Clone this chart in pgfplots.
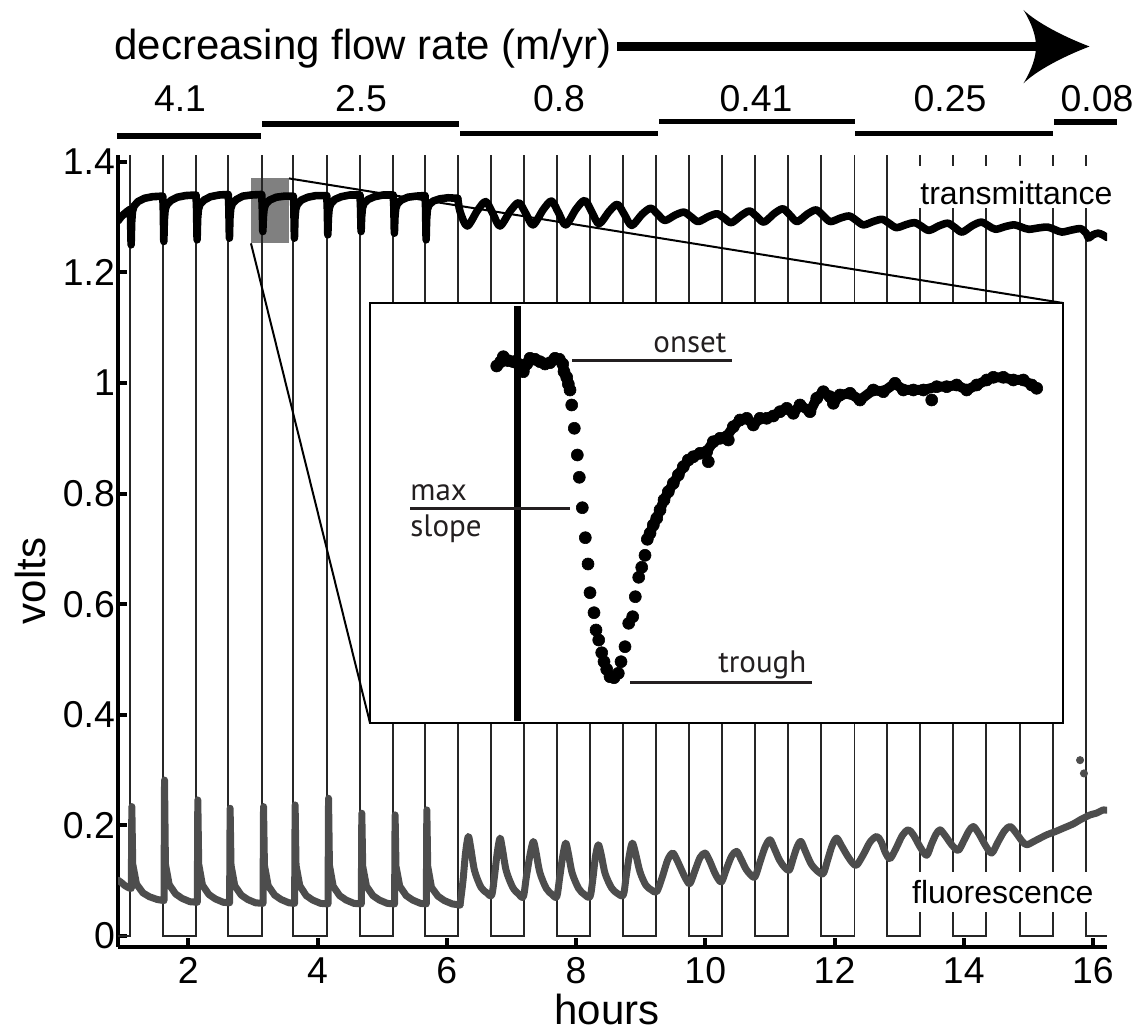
\documentclass[border=0pt]{standalone}
\usepackage{fontspec}
\setmainfont{Liberation Sans}
\newfontfamily\insetfont{PT Sans}
\usepackage{pgfplots}
\pgfplotsset{compat=1.18}
\definecolor{fl}{HTML}{4D4D4D}
\definecolor{sq}{HTML}{262626}
\definecolor{rectgray}{HTML}{808080}
\definecolor{ink}{HTML}{231F20}
\begin{document}
\begin{tikzpicture}
\begin{axis}[
  at={(59pt,-473.35pt)}, anchor=south west,
  scale only axis, width=494.6pt, height=395.75pt,
  xmin=0.912, xmax=16.22, ymin=-0.01935, ymax=1.412,
  axis lines=left, axis line style={-, line width=2pt},
  tick align=inside, major tick length=4.5pt,
  tick style={line width=2pt, black},
  xtick={2,4,6,8,10,12,14,16},
  xticklabels={2,4,6,8,10,12,14,16},
  ytick={0,0.2,0.4,0.6,0.8,1,1.2,1.4},
  yticklabels={0,0.2,0.4,0.6,0.8,1,1.2,1.4},
  /pgf/number format/assume math mode=true,
  tick label style={font=\fontsize{18.7}{22}\selectfont},
  yticklabel style={xshift=2pt},
  xticklabel style={yshift=-2pt},
]
% highlighted region
\fill[rectgray] (axis cs:2.970,1.2526) rectangle (axis cs:3.558,1.370);
% square wave (valve switching)
\addplot[sq, line width=0.95pt, line join=miter] coordinates {
(0.912,0) (1.098,0) (1.098,1.45) (1.604,1.45) (1.604,0) (2.119,0) (2.119,1.45) (2.619,1.45) (2.619,0)
(3.136,0) (3.136,1.45) (3.625,1.45) (3.625,0) (4.142,0) (4.142,1.45) (4.657,1.45) (4.657,0)
(5.172,0) (5.172,1.45) (5.663,1.45) (5.663,0) (6.178,0) (6.178,1.45) (6.684,1.45) (6.684,0)
(7.195,0) (7.195,1.45) (7.701,1.45) (7.701,0) (8.216,0) (8.216,1.45) (8.722,1.45) (8.722,0)
(9.236,0) (9.236,1.45) (9.751,1.45) (9.751,0) (10.265,0) (10.265,1.45) (10.768,1.45) (10.768,0)
(11.282,0) (11.282,1.45) (11.796,1.45) (11.796,0) (12.309,0) (12.309,1.45) (12.819,1.45) (12.819,0)
(13.322,0) (13.322,1.45) (13.835,1.45) (13.835,0) (14.351,0) (14.351,1.45) (14.864,1.45) (14.864,0)
(15.378,0) (15.378,1.45) (15.892,1.45) (15.892,0) (16.22,0)};
% zoom lines
\draw[black, line width=1pt] (axis cs:3.558,1.370) -- (axis cs:15.536,1.1447);
\draw[black, line width=1pt] (axis cs:2.970,1.2526) -- (axis cs:4.812,0.3852);
% fluorescence
\addplot[fl, line width=3.5pt, line join=round, line cap=round] coordinates {
(0.912,0.101) (0.96,0.097) (1.02,0.091) (1.08,0.087) (1.118,0.086) (1.126,0.234) (1.14,0.13) (1.198,0.094) (1.298,0.078) (1.398,0.071) (1.52,0.066)
(1.624,0.064) (1.632,0.282) (1.646,0.13) (1.704,0.093) (1.804,0.076) (1.904,0.068) (2.026,0.062)
(2.139,0.061) (2.147,0.246) (2.161,0.13) (2.219,0.092) (2.319,0.075) (2.419,0.067) (2.541,0.061)
(2.639,0.060) (2.647,0.231) (2.661,0.128) (2.719,0.091) (2.819,0.074) (2.919,0.066) (3.041,0.060)
(3.156,0.059) (3.164,0.234) (3.178,0.128) (3.236,0.091) (3.336,0.074) (3.436,0.066) (3.558,0.060)
(3.645,0.059) (3.653,0.237) (3.667,0.128) (3.725,0.091) (3.825,0.073) (3.925,0.065) (4.047,0.059)
(4.162,0.058) (4.170,0.249) (4.184,0.128) (4.242,0.090) (4.342,0.073) (4.442,0.065) (4.564,0.059)
(4.677,0.058) (4.685,0.222) (4.699,0.126) (4.757,0.090) (4.857,0.073) (4.957,0.065) (5.079,0.059)
(5.192,0.058) (5.200,0.219) (5.214,0.126) (5.272,0.090) (5.372,0.073) (5.472,0.065) (5.594,0.059)
(5.683,0.058) (5.691,0.228) (5.705,0.126) (5.763,0.088) (5.863,0.072) (5.963,0.064) (6.085,0.058) (6.205,0.056)};
\addplot[fl, line width=3.5pt, line join=round, line cap=round, smooth, tension=0.5] coordinates {
(6.205,0.056) (6.25,0.099) (6.29,0.150) (6.333,0.180) (6.37,0.160) (6.43,0.118) (6.53,0.088) (6.62,0.078)
(6.695,0.074) (6.74,0.110) (6.78,0.150) (6.824,0.177) (6.86,0.158) (6.92,0.118) (7.02,0.088) (7.11,0.076)
(7.184,0.071) (7.23,0.106) (7.29,0.148) (7.339,0.171) (7.38,0.152) (7.44,0.115) (7.54,0.086) (7.63,0.075)
(7.701,0.071) (7.745,0.104) (7.795,0.145) (7.840,0.168) (7.88,0.150) (7.94,0.114) (8.04,0.086) (8.13,0.075)
(8.216,0.071) (8.26,0.103) (8.30,0.143) (8.345,0.165) (8.39,0.147) (8.45,0.113) (8.55,0.087) (8.64,0.077)
(8.731,0.074) (8.775,0.107) (8.825,0.146) (8.871,0.168) (8.92,0.150) (8.99,0.116) (9.08,0.092) (9.17,0.083)
(9.248,0.080) (9.33,0.105) (9.42,0.138) (9.496,0.150) (9.56,0.138) (9.65,0.115) (9.71,0.101)
(9.764,0.095) (9.84,0.118) (9.92,0.142) (9.996,0.150) (10.06,0.138) (10.14,0.116) (10.20,0.103)
(10.254,0.098) (10.33,0.122) (10.41,0.145) (10.486,0.153) (10.55,0.140) (10.63,0.121) (10.70,0.111)
(10.770,0.107) (10.85,0.135) (10.93,0.162) (11.002,0.174) (11.07,0.158) (11.15,0.137) (11.23,0.124)
(11.300,0.119) (11.36,0.140) (11.42,0.161) (11.48,0.171) (11.55,0.153) (11.64,0.130) (11.74,0.117)
(11.826,0.113) (11.895,0.138) (11.965,0.164) (12.034,0.177) (12.11,0.163) (12.20,0.145) (12.28,0.132)
(12.343,0.128) (12.45,0.148) (12.55,0.170) (12.653,0.180) (12.72,0.171) (12.79,0.150)
(12.859,0.140) (12.95,0.158) (13.05,0.182) (13.142,0.192) (13.22,0.183) (13.33,0.160)
(13.427,0.146) (13.50,0.166) (13.57,0.184) (13.633,0.192) (13.71,0.182) (13.82,0.164)
(13.916,0.155) (14.00,0.172) (14.08,0.190) (14.148,0.198) (14.23,0.186) (14.34,0.163)
(14.433,0.150) (14.53,0.170) (14.63,0.190) (14.716,0.198) (14.80,0.188) (14.90,0.172)
(14.974,0.165) (15.10,0.172) (15.284,0.183) (15.40,0.188) (15.541,0.195) (15.70,0.203) (15.80,0.210)
(15.955,0.219) (16.05,0.222) (16.16,0.228) (16.21,0.227)};
\addplot[only marks, mark=*, mark size=1.8pt, fl] coordinates {(15.80,0.318) (15.86,0.294)};
% transmittance
\addplot[black, line width=3.8pt, line join=round, line cap=round] coordinates {
(0.912,1.293) (0.95,1.299) (1.0,1.305) (1.05,1.310) (1.098,1.314) (1.106,1.300) (1.115,1.250) (1.123,1.290) (1.135,1.310) (1.16,1.320) (1.22,1.328) (1.32,1.334) (1.45,1.337) (1.604,1.338)
(1.612,1.320) (1.621,1.256) (1.629,1.295) (1.641,1.313) (1.666,1.322) (1.73,1.330) (1.83,1.336) (1.96,1.339) (2.119,1.340)
(2.127,1.320) (2.136,1.259) (2.144,1.297) (2.156,1.314) (2.181,1.323) (2.245,1.331) (2.345,1.337) (2.475,1.340) (2.619,1.341)
(2.627,1.320) (2.636,1.262) (2.644,1.298) (2.656,1.315) (2.681,1.324) (2.745,1.332) (2.845,1.338) (2.975,1.340) (3.136,1.341)
(3.144,1.320) (3.153,1.274) (3.161,1.300) (3.173,1.315) (3.198,1.324) (3.262,1.331) (3.362,1.336) (3.492,1.338) (3.625,1.338)
(3.633,1.320) (3.642,1.262) (3.650,1.297) (3.662,1.314) (3.687,1.323) (3.751,1.331) (3.851,1.336) (3.981,1.339) (4.142,1.339)
(4.150,1.320) (4.159,1.268) (4.167,1.298) (4.179,1.315) (4.204,1.324) (4.268,1.332) (4.368,1.337) (4.498,1.340) (4.657,1.340)
(4.665,1.320) (4.674,1.274) (4.682,1.300) (4.694,1.316) (4.719,1.325) (4.783,1.332) (4.883,1.337) (5.013,1.340) (5.172,1.340)
(5.180,1.320) (5.189,1.271) (5.197,1.299) (5.209,1.315) (5.234,1.324) (5.298,1.331) (5.398,1.336) (5.528,1.338) (5.663,1.339)
(5.671,1.320) (5.680,1.259) (5.688,1.296) (5.700,1.314) (5.725,1.322) (5.789,1.329) (5.889,1.333) (6.019,1.335) (6.17,1.334)};
\addplot[black, line width=3.8pt, line join=round, line cap=round, smooth, tension=0.5] coordinates {
(6.17,1.334) (6.208,1.309) (6.318,1.284) (6.478,1.3126) (6.604,1.328) (6.714,1.306) (6.824,1.284) (6.984,1.3113)
(7.115,1.326) (7.225,1.306) (7.335,1.286) (7.495,1.314) (7.621,1.329) (7.731,1.3075) (7.841,1.286) (8.001,1.3146)
(8.136,1.330) (8.246,1.309) (8.356,1.288) (8.516,1.3108) (8.642,1.323) (8.752,1.304) (8.862,1.285) (9.022,1.3052)
(9.156,1.316) (9.266,1.305) (9.376,1.294) (9.536,1.3038) (9.671,1.309) (9.781,1.3005) (9.891,1.292) (10.051,1.3011)
(10.185,1.306) (10.295,1.298) (10.405,1.290) (10.565,1.3037) (10.688,1.311) (10.798,1.301) (10.908,1.291) (11.068,1.3066)
(11.202,1.315) (11.312,1.3035) (11.422,1.292) (11.582,1.3057) (11.716,1.313) (11.826,1.3025) (11.936,1.292) (12.096,1.2985)
(12.229,1.302) (12.339,1.294) (12.449,1.286) (12.609,1.2925) (12.739,1.296) (12.849,1.2885) (12.959,1.281) (13.119,1.2869)
(13.242,1.290) (13.352,1.283) (13.462,1.276) (13.622,1.2845) (13.755,1.289) (13.865,1.281) (13.975,1.273) (14.135,1.2847)
(14.271,1.291) (14.381,1.2845) (14.491,1.278) (14.651,1.2832) (14.784,1.286) (14.894,1.282) (15.004,1.278) (15.164,1.2806)
(15.298,1.282) (15.408,1.2775) (15.518,1.273) (15.678,1.2769) (15.812,1.279) (15.90,1.270) (15.93,1.262) (16.0,1.268)
(16.08,1.271) (16.15,1.268) (16.22,1.263)};
\end{axis}

\begin{scope}[x=0.5pt,y=-0.5pt]
% series labels with white backing
\fill[white] (915,166) rectangle (1116,208);
\node[anchor=base west, inner sep=0pt, font=\fontsize{16}{19}\selectfont] at (920,204.5) {transmittance};
\fill[white] (905,871.7) rectangle (1098,911.7);
\node[anchor=base west, inner sep=0pt, font=\fontsize{16}{19}\selectfont] at (911.7,903.3) {fluorescence};
% axis labels
\node[anchor=base, inner sep=0pt, font=\fontsize{21}{25}\selectfont] at (607,1024) {hours};
\node[rotate=90, inner sep=0pt, font=\fontsize{21}{25}\selectfont] at (30,581) {volts};
% header
\node[anchor=base west, inner sep=0pt, font=\fontsize{21}{25}\selectfont] at (114,60) {decreasing flow rate (m/yr)};
\draw[black, line width=4.5pt] (617,46.5) -- (1045,46.5);
\fill[black] (1089.5,46.5) .. controls (1062,36) and (1036,22) .. (1023.5,10)
  .. controls (1032,24) and (1036,36) .. (1036,46.5)
  .. controls (1036,57) and (1032,69) .. (1023.5,83.3)
  .. controls (1036,71) and (1062,57) .. cycle;
\foreach \cx/\lab in {180/4.1, 361/2.5, 559/0.8, 756/0.41, 950/0.25, 1097/0.08}
  \node[anchor=base, inner sep=0pt, font=\fontsize{18.7}{22}\selectfont] at (\cx,111.7) {\lab};
\draw[black, line width=2.75pt] (117,136) -- (261,136);
\draw[black, line width=2.75pt] (262,124) -- (459,124);
\draw[black, line width=2.75pt] (460,133.7) -- (658,133.7);
\draw[black, line width=2.75pt] (659,121.7) -- (855,121.7);
\draw[black, line width=2.75pt] (855,133.3) -- (1053,133.3);
\draw[black, line width=2.75pt] (1054,122) -- (1117,122);
\end{scope}

% inset
\begin{axis}[
  at={(185pt,-361.5pt)}, anchor=south west,
  scale only axis, width=346.5pt, height=210pt,
  xmin=0, xmax=693, ymin=0, ymax=420,
  xtick=\empty, ytick=\empty,
  axis line style={line width=1.3pt, black},
  axis background/.style={fill=white},
  clip=false,
]
\draw[black, line width=3.3pt] (axis cs:147.7,2.3) -- (axis cs:147.7,417);
\draw[ink, line width=1.6pt] (axis cs:40,214.7) -- (axis cs:200,214.7);
\draw[ink, line width=1.6pt] (axis cs:202,362.3) -- (axis cs:362,362.3);
\draw[ink, line width=1.6pt] (axis cs:260,40.7) -- (axis cs:441.7,40.7);
\node[anchor=base east, inner sep=0pt, text=ink, font=\insetfont\fontsize{15.5}{18}\selectfont] at (axis cs:356.7,370) {onset};
\node[anchor=base west, inner sep=0pt, text=ink, font=\insetfont\fontsize{15.5}{18}\selectfont] at (axis cs:40,222) {max};
\node[anchor=base west, inner sep=0pt, text=ink, font=\insetfont\fontsize{15.5}{18}\selectfont] at (axis cs:40,186) {slope};
\node[anchor=base east, inner sep=0pt, text=ink, font=\insetfont\fontsize{15.5}{18}\selectfont] at (axis cs:436.7,51) {trough};
\addplot[black, line width=5pt, line join=round, line cap=round, mark=*, mark size=3pt, mark options={line width=0.3pt, fill=black}] coordinates {
(126.7,357) (130.7,361.3) (133.3,366.3) (138.3,362.3) (143.3,361.3) (148.3,359) (153.3,351.3) (156.7,359) (160,364.7) (165,363.7)
(170,361.3) (175,359) (180,360.3) (185,364.7) (189.3,363.7) (192.7,359) (194,351.3) (196.7,345.7) (198.3,339) (200,333)};
\addplot[only marks, black, mark=*, mark size=3pt, mark options={line width=0.3pt, fill=black}] coordinates {
(201.7,318) (204.3,294.7) (207.3,268) (209.3,245.7) (212.3,215.3) (215.3,185.3) (218,159) (220,130.3) (224,110.3) (226,93)
(228.7,83) (231.7,70.3) (234,61.3) (236.7,53.7) (240,46.3) (244,45.3) (248.3,49.7) (251,61.3) (255,76.3) (258.7,99.7)
(262.7,106.3) (265.3,126.3) (268.7,145.7) (271.7,155.7) (275,167.7) (338.3,261.3) (358.3,283) (561.7,323)};
\addplot[black, line width=5pt, line join=round, line cap=round, mark=*, mark size=3pt, mark options={line width=0.3pt, fill=black}] coordinates {
(277.3,183.7) (280,189.7) (283.3,198) (286.7,204.7) (290,213) (294,223) (298.3,231.3) (303.3,239.7) (308.3,248) (313.3,256.3)
(318.3,263) (323.3,266.3) (330,269.7) (336.7,271.3) (343.3,281.3) (350,284.7) (356.7,286.3) (363.3,296.3) (370,303) (376.7,304.7)
(383.3,298) (390,304.7) (396.7,304.7) (403.3,307) (410,311.3) (416.7,314.7) (423.3,309.7) (430,318) (440,311.3) (446.7,324.7)
(453.3,331.3) (460,326.3) (463.3,319.7) (470,328) (480,329.7) (490,323) (503.3,333) (513.3,331.3) (525,339.7) (533.3,333)
(543.3,333) (553.3,333) (566.7,336.3) (576.7,336.3) (586.7,338) (596.7,333) (606.7,338) (616.7,343) (623.3,345.7) (633.3,345.7)
(643.3,343) (653.3,343) (661.7,338) (666.7,334.7)};
\end{axis}
\pgfresetboundingbox
\path (0pt,0pt) rectangle (572.5pt,-515.5pt);
\end{tikzpicture}
\end{document}
